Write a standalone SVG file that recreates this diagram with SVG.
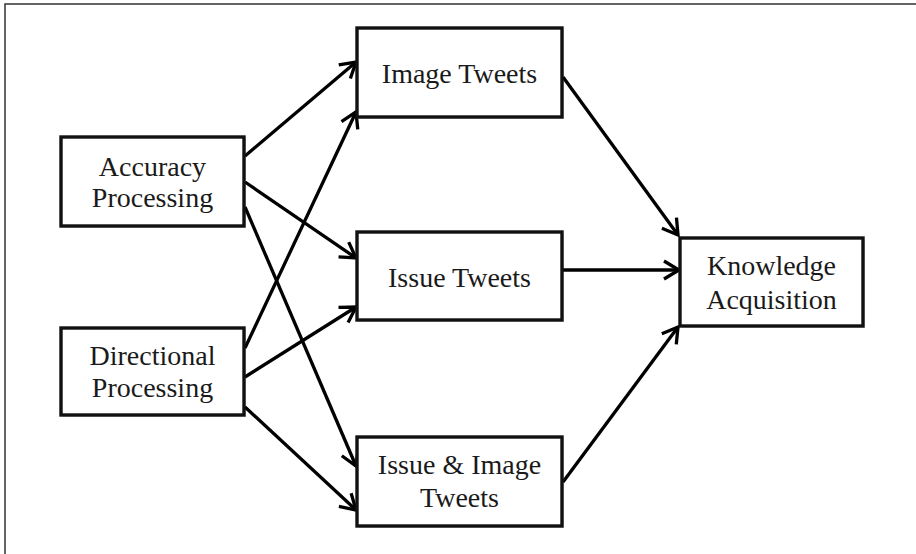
<svg xmlns="http://www.w3.org/2000/svg" width="916" height="554" viewBox="0 0 916 554">
<style>
.box{fill:#fff;stroke:#111;stroke-width:3.4}
.sh{fill:#000;opacity:0.12}
.t{font-family:"Liberation Serif","Times New Roman",serif;font-size:28px;fill:#1a1a1a;text-anchor:middle}
.c{stroke:#000;stroke-width:3.3;fill:none;marker-end:url(#ah)}
</style>
<defs>
<marker id="ah" markerUnits="userSpaceOnUse" markerWidth="24" markerHeight="24" viewBox="0 0 24 24" refX="20" refY="12" orient="auto">
<path d="M5,3 L20,12 L5,21" fill="none" stroke="#000" stroke-width="3.3" stroke-linejoin="miter"/>
</marker>
</defs>
<rect width="916" height="554" fill="#fff"/>
<path d="M5,554 L5,4 L916,4" fill="none" stroke="#333" stroke-width="1.5"/>
<g id="connectors">
<line class="c" x1="245" y1="156" x2="356" y2="62"/>
<line class="c" x1="245" y1="348" x2="356" y2="112"/>
<line class="c" x1="245" y1="182" x2="356" y2="258"/>
<line class="c" x1="245" y1="207" x2="356" y2="466"/>
<line class="c" x1="245" y1="377" x2="356" y2="307"/>
<line class="c" x1="245" y1="407" x2="356" y2="510"/>
<line class="c" x1="563" y1="77" x2="678" y2="235"/>
<line class="c" x1="563" y1="270" x2="679" y2="270"/>
<line class="c" x1="563" y1="482" x2="678" y2="327"/>
</g>
<g id="accuracy">
<rect class="sh" x="63" y="139" width="183" height="89"/>
<rect class="box" x="61" y="137" width="183" height="89"/>
<text class="t" x="152.5" y="176">Accuracy</text>
<text class="t" x="152.5" y="206.5">Processing</text>
</g>
<g id="directional">
<rect class="sh" x="63" y="330" width="183" height="87"/>
<rect class="box" x="61" y="328" width="183" height="87"/>
<text class="t" x="152.5" y="365">Directional</text>
<text class="t" x="152.5" y="396.5">Processing</text>
</g>
<g id="image-tweets">
<rect class="sh" x="359" y="30" width="205" height="89"/>
<rect class="box" x="357" y="28" width="205" height="89"/>
<text class="t" x="459.5" y="83">Image Tweets</text>
</g>
<g id="issue-tweets">
<rect class="sh" x="359" y="234" width="205" height="88"/>
<rect class="box" x="357" y="232" width="205" height="88"/>
<text class="t" x="459.5" y="287">Issue Tweets</text>
</g>
<g id="issue-image-tweets">
<rect class="sh" x="359" y="439" width="205" height="89"/>
<rect class="box" x="357" y="437" width="205" height="89"/>
<text class="t" x="459.5" y="474">Issue &amp; Image</text>
<text class="t" x="459.5" y="507">Tweets</text>
</g>
<g id="knowledge">
<rect class="sh" x="682" y="240" width="183" height="88"/>
<rect class="box" x="680" y="238" width="183" height="88"/>
<text class="t" x="771.5" y="275">Knowledge</text>
<text class="t" x="771.5" y="309">Acquisition</text>
</g>
</svg>
